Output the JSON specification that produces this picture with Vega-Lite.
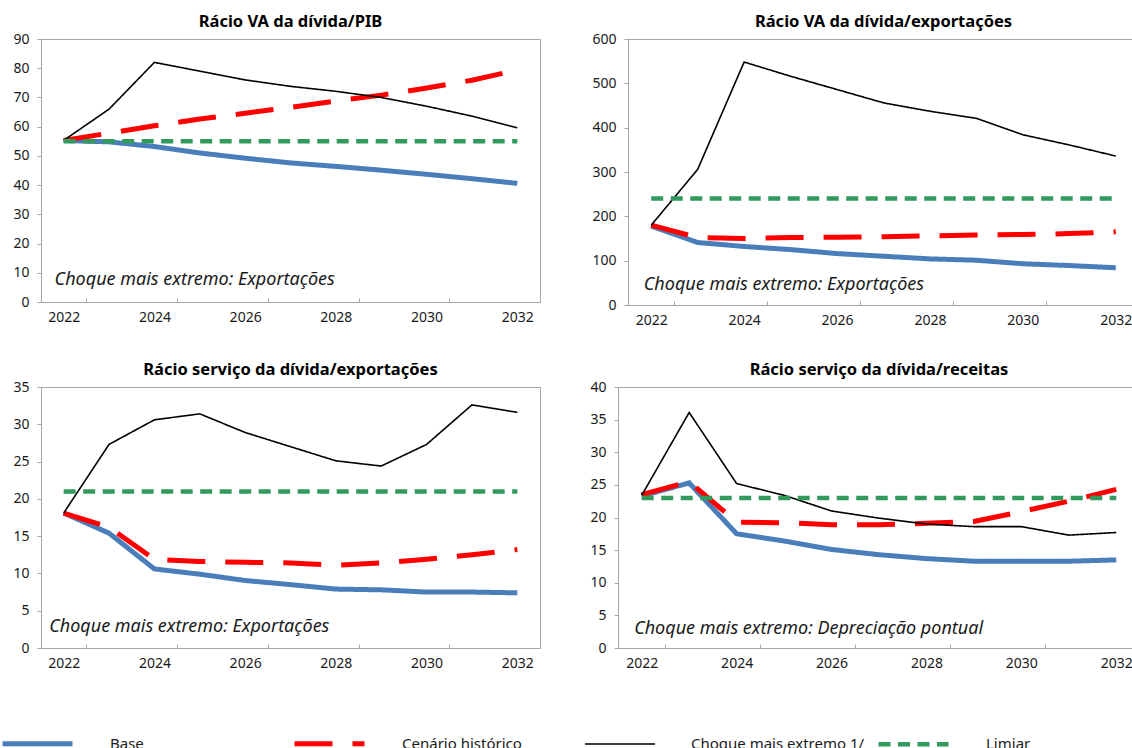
{
  "$schema": "https://vega.github.io/schema/vega-lite/v6.json",
  "padding": {"left": 0, "top": 13, "right": 0, "bottom": 0},
  "background": "white",
  "datasets": {
    "series": [
      {"p": "pib", "s": "Base", "year": "2022", "v": 55.3},
      {"p": "pib", "s": "Base", "year": "2023", "v": 54.8},
      {"p": "pib", "s": "Base", "year": "2024", "v": 53.2},
      {"p": "pib", "s": "Base", "year": "2025", "v": 51.0},
      {"p": "pib", "s": "Base", "year": "2026", "v": 49.2},
      {"p": "pib", "s": "Base", "year": "2027", "v": 47.6},
      {"p": "pib", "s": "Base", "year": "2028", "v": 46.4},
      {"p": "pib", "s": "Base", "year": "2029", "v": 45.1},
      {"p": "pib", "s": "Base", "year": "2030", "v": 43.7},
      {"p": "pib", "s": "Base", "year": "2031", "v": 42.2},
      {"p": "pib", "s": "Base", "year": "2032", "v": 40.6},
      {"p": "pib", "s": "Cenário histórico", "year": "2022", "v": 55.3},
      {"p": "pib", "s": "Cenário histórico", "year": "2023", "v": 57.8},
      {"p": "pib", "s": "Cenário histórico", "year": "2024", "v": 60.3},
      {"p": "pib", "s": "Cenário histórico", "year": "2025", "v": 62.6},
      {"p": "pib", "s": "Cenário histórico", "year": "2026", "v": 64.6},
      {"p": "pib", "s": "Cenário histórico", "year": "2027", "v": 66.6},
      {"p": "pib", "s": "Cenário histórico", "year": "2028", "v": 68.8},
      {"p": "pib", "s": "Cenário histórico", "year": "2029", "v": 70.8},
      {"p": "pib", "s": "Cenário histórico", "year": "2030", "v": 73.2},
      {"p": "pib", "s": "Cenário histórico", "year": "2031", "v": 75.9},
      {"p": "pib", "s": "Cenário histórico", "year": "2032", "v": 79.4},
      {"p": "pib", "s": "Choque mais extremo 1/", "year": "2022", "v": 55.3},
      {"p": "pib", "s": "Choque mais extremo 1/", "year": "2023", "v": 66.0},
      {"p": "pib", "s": "Choque mais extremo 1/", "year": "2024", "v": 82.0},
      {"p": "pib", "s": "Choque mais extremo 1/", "year": "2025", "v": 79.0},
      {"p": "pib", "s": "Choque mais extremo 1/", "year": "2026", "v": 76.0},
      {"p": "pib", "s": "Choque mais extremo 1/", "year": "2027", "v": 73.8},
      {"p": "pib", "s": "Choque mais extremo 1/", "year": "2028", "v": 72.1},
      {"p": "pib", "s": "Choque mais extremo 1/", "year": "2029", "v": 70.0},
      {"p": "pib", "s": "Choque mais extremo 1/", "year": "2030", "v": 67.0},
      {"p": "pib", "s": "Choque mais extremo 1/", "year": "2031", "v": 63.6},
      {"p": "pib", "s": "Choque mais extremo 1/", "year": "2032", "v": 59.6},
      {"p": "pib", "s": "Limiar", "year": "2022", "v": 55},
      {"p": "pib", "s": "Limiar", "year": "2023", "v": 55},
      {"p": "pib", "s": "Limiar", "year": "2024", "v": 55},
      {"p": "pib", "s": "Limiar", "year": "2025", "v": 55},
      {"p": "pib", "s": "Limiar", "year": "2026", "v": 55},
      {"p": "pib", "s": "Limiar", "year": "2027", "v": 55},
      {"p": "pib", "s": "Limiar", "year": "2028", "v": 55},
      {"p": "pib", "s": "Limiar", "year": "2029", "v": 55},
      {"p": "pib", "s": "Limiar", "year": "2030", "v": 55},
      {"p": "pib", "s": "Limiar", "year": "2031", "v": 55},
      {"p": "pib", "s": "Limiar", "year": "2032", "v": 55},

      {"p": "exp", "s": "Base", "year": "2022", "v": 178},
      {"p": "exp", "s": "Base", "year": "2023", "v": 141},
      {"p": "exp", "s": "Base", "year": "2024", "v": 132},
      {"p": "exp", "s": "Base", "year": "2025", "v": 125},
      {"p": "exp", "s": "Base", "year": "2026", "v": 116},
      {"p": "exp", "s": "Base", "year": "2027", "v": 110},
      {"p": "exp", "s": "Base", "year": "2028", "v": 104},
      {"p": "exp", "s": "Base", "year": "2029", "v": 101},
      {"p": "exp", "s": "Base", "year": "2030", "v": 93},
      {"p": "exp", "s": "Base", "year": "2031", "v": 89},
      {"p": "exp", "s": "Base", "year": "2032", "v": 84},
      {"p": "exp", "s": "Cenário histórico", "year": "2022", "v": 180},
      {"p": "exp", "s": "Cenário histórico", "year": "2023", "v": 152},
      {"p": "exp", "s": "Cenário histórico", "year": "2024", "v": 150},
      {"p": "exp", "s": "Cenário histórico", "year": "2025", "v": 152},
      {"p": "exp", "s": "Cenário histórico", "year": "2026", "v": 153},
      {"p": "exp", "s": "Cenário histórico", "year": "2027", "v": 154},
      {"p": "exp", "s": "Cenário histórico", "year": "2028", "v": 156},
      {"p": "exp", "s": "Cenário histórico", "year": "2029", "v": 158},
      {"p": "exp", "s": "Cenário histórico", "year": "2030", "v": 159},
      {"p": "exp", "s": "Cenário histórico", "year": "2031", "v": 161},
      {"p": "exp", "s": "Cenário histórico", "year": "2032", "v": 165},
      {"p": "exp", "s": "Choque mais extremo 1/", "year": "2022", "v": 180},
      {"p": "exp", "s": "Choque mais extremo 1/", "year": "2023", "v": 306},
      {"p": "exp", "s": "Choque mais extremo 1/", "year": "2024", "v": 548},
      {"p": "exp", "s": "Choque mais extremo 1/", "year": "2025", "v": 516},
      {"p": "exp", "s": "Choque mais extremo 1/", "year": "2026", "v": 486},
      {"p": "exp", "s": "Choque mais extremo 1/", "year": "2027", "v": 456},
      {"p": "exp", "s": "Choque mais extremo 1/", "year": "2028", "v": 437},
      {"p": "exp", "s": "Choque mais extremo 1/", "year": "2029", "v": 421},
      {"p": "exp", "s": "Choque mais extremo 1/", "year": "2030", "v": 384},
      {"p": "exp", "s": "Choque mais extremo 1/", "year": "2031", "v": 361},
      {"p": "exp", "s": "Choque mais extremo 1/", "year": "2032", "v": 336},
      {"p": "exp", "s": "Limiar", "year": "2022", "v": 240},
      {"p": "exp", "s": "Limiar", "year": "2023", "v": 240},
      {"p": "exp", "s": "Limiar", "year": "2024", "v": 240},
      {"p": "exp", "s": "Limiar", "year": "2025", "v": 240},
      {"p": "exp", "s": "Limiar", "year": "2026", "v": 240},
      {"p": "exp", "s": "Limiar", "year": "2027", "v": 240},
      {"p": "exp", "s": "Limiar", "year": "2028", "v": 240},
      {"p": "exp", "s": "Limiar", "year": "2029", "v": 240},
      {"p": "exp", "s": "Limiar", "year": "2030", "v": 240},
      {"p": "exp", "s": "Limiar", "year": "2031", "v": 240},
      {"p": "exp", "s": "Limiar", "year": "2032", "v": 240},

      {"p": "sexp", "s": "Base", "year": "2022", "v": 18.1},
      {"p": "sexp", "s": "Base", "year": "2023", "v": 15.4},
      {"p": "sexp", "s": "Base", "year": "2024", "v": 10.6},
      {"p": "sexp", "s": "Base", "year": "2025", "v": 9.9},
      {"p": "sexp", "s": "Base", "year": "2026", "v": 9.05},
      {"p": "sexp", "s": "Base", "year": "2027", "v": 8.5},
      {"p": "sexp", "s": "Base", "year": "2028", "v": 7.9},
      {"p": "sexp", "s": "Base", "year": "2029", "v": 7.8},
      {"p": "sexp", "s": "Base", "year": "2030", "v": 7.5},
      {"p": "sexp", "s": "Base", "year": "2031", "v": 7.5},
      {"p": "sexp", "s": "Base", "year": "2032", "v": 7.4},
      {"p": "sexp", "s": "Cenário histórico", "year": "2022", "v": 18.1},
      {"p": "sexp", "s": "Cenário histórico", "year": "2023", "v": 16.2},
      {"p": "sexp", "s": "Cenário histórico", "year": "2024", "v": 11.9},
      {"p": "sexp", "s": "Cenário histórico", "year": "2025", "v": 11.6},
      {"p": "sexp", "s": "Cenário histórico", "year": "2026", "v": 11.5},
      {"p": "sexp", "s": "Cenário histórico", "year": "2027", "v": 11.4},
      {"p": "sexp", "s": "Cenário histórico", "year": "2028", "v": 11.1},
      {"p": "sexp", "s": "Cenário histórico", "year": "2029", "v": 11.4},
      {"p": "sexp", "s": "Cenário histórico", "year": "2030", "v": 11.9},
      {"p": "sexp", "s": "Cenário histórico", "year": "2031", "v": 12.5},
      {"p": "sexp", "s": "Cenário histórico", "year": "2032", "v": 13.2},
      {"p": "sexp", "s": "Choque mais extremo 1/", "year": "2022", "v": 18.1},
      {"p": "sexp", "s": "Choque mais extremo 1/", "year": "2023", "v": 27.3},
      {"p": "sexp", "s": "Choque mais extremo 1/", "year": "2024", "v": 30.6},
      {"p": "sexp", "s": "Choque mais extremo 1/", "year": "2025", "v": 31.4},
      {"p": "sexp", "s": "Choque mais extremo 1/", "year": "2026", "v": 28.9},
      {"p": "sexp", "s": "Choque mais extremo 1/", "year": "2027", "v": 27.0},
      {"p": "sexp", "s": "Choque mais extremo 1/", "year": "2028", "v": 25.1},
      {"p": "sexp", "s": "Choque mais extremo 1/", "year": "2029", "v": 24.4},
      {"p": "sexp", "s": "Choque mais extremo 1/", "year": "2030", "v": 27.3},
      {"p": "sexp", "s": "Choque mais extremo 1/", "year": "2031", "v": 32.6},
      {"p": "sexp", "s": "Choque mais extremo 1/", "year": "2032", "v": 31.6},
      {"p": "sexp", "s": "Limiar", "year": "2022", "v": 21},
      {"p": "sexp", "s": "Limiar", "year": "2023", "v": 21},
      {"p": "sexp", "s": "Limiar", "year": "2024", "v": 21},
      {"p": "sexp", "s": "Limiar", "year": "2025", "v": 21},
      {"p": "sexp", "s": "Limiar", "year": "2026", "v": 21},
      {"p": "sexp", "s": "Limiar", "year": "2027", "v": 21},
      {"p": "sexp", "s": "Limiar", "year": "2028", "v": 21},
      {"p": "sexp", "s": "Limiar", "year": "2029", "v": 21},
      {"p": "sexp", "s": "Limiar", "year": "2030", "v": 21},
      {"p": "sexp", "s": "Limiar", "year": "2031", "v": 21},
      {"p": "sexp", "s": "Limiar", "year": "2032", "v": 21},

      {"p": "srec", "s": "Base", "year": "2022", "v": 23.3},
      {"p": "srec", "s": "Base", "year": "2023", "v": 25.3},
      {"p": "srec", "s": "Base", "year": "2024", "v": 17.5},
      {"p": "srec", "s": "Base", "year": "2025", "v": 16.4},
      {"p": "srec", "s": "Base", "year": "2026", "v": 15.1},
      {"p": "srec", "s": "Base", "year": "2027", "v": 14.3},
      {"p": "srec", "s": "Base", "year": "2028", "v": 13.7},
      {"p": "srec", "s": "Base", "year": "2029", "v": 13.3},
      {"p": "srec", "s": "Base", "year": "2030", "v": 13.3},
      {"p": "srec", "s": "Base", "year": "2031", "v": 13.3},
      {"p": "srec", "s": "Base", "year": "2032", "v": 13.5},
      {"p": "srec", "s": "Cenário histórico", "year": "2022", "v": 23.5},
      {"p": "srec", "s": "Cenário histórico", "year": "2023", "v": 25.5},
      {"p": "srec", "s": "Cenário histórico", "year": "2024", "v": 19.3},
      {"p": "srec", "s": "Cenário histórico", "year": "2025", "v": 19.2},
      {"p": "srec", "s": "Cenário histórico", "year": "2026", "v": 18.9},
      {"p": "srec", "s": "Cenário histórico", "year": "2027", "v": 18.9},
      {"p": "srec", "s": "Cenário histórico", "year": "2028", "v": 19.1},
      {"p": "srec", "s": "Cenário histórico", "year": "2029", "v": 19.4},
      {"p": "srec", "s": "Cenário histórico", "year": "2030", "v": 20.9},
      {"p": "srec", "s": "Cenário histórico", "year": "2031", "v": 22.5},
      {"p": "srec", "s": "Cenário histórico", "year": "2032", "v": 24.3},
      {"p": "srec", "s": "Choque mais extremo 1/", "year": "2022", "v": 23.4},
      {"p": "srec", "s": "Choque mais extremo 1/", "year": "2023", "v": 36.1},
      {"p": "srec", "s": "Choque mais extremo 1/", "year": "2024", "v": 25.2},
      {"p": "srec", "s": "Choque mais extremo 1/", "year": "2025", "v": 23.4},
      {"p": "srec", "s": "Choque mais extremo 1/", "year": "2026", "v": 21.0},
      {"p": "srec", "s": "Choque mais extremo 1/", "year": "2027", "v": 19.9},
      {"p": "srec", "s": "Choque mais extremo 1/", "year": "2028", "v": 19.0},
      {"p": "srec", "s": "Choque mais extremo 1/", "year": "2029", "v": 18.6},
      {"p": "srec", "s": "Choque mais extremo 1/", "year": "2030", "v": 18.6},
      {"p": "srec", "s": "Choque mais extremo 1/", "year": "2031", "v": 17.3},
      {"p": "srec", "s": "Choque mais extremo 1/", "year": "2032", "v": 17.7},
      {"p": "srec", "s": "Limiar", "year": "2022", "v": 23},
      {"p": "srec", "s": "Limiar", "year": "2023", "v": 23},
      {"p": "srec", "s": "Limiar", "year": "2024", "v": 23},
      {"p": "srec", "s": "Limiar", "year": "2025", "v": 23},
      {"p": "srec", "s": "Limiar", "year": "2026", "v": 23},
      {"p": "srec", "s": "Limiar", "year": "2027", "v": 23},
      {"p": "srec", "s": "Limiar", "year": "2028", "v": 23},
      {"p": "srec", "s": "Limiar", "year": "2029", "v": 23},
      {"p": "srec", "s": "Limiar", "year": "2030", "v": 23},
      {"p": "srec", "s": "Limiar", "year": "2031", "v": 23},
      {"p": "srec", "s": "Limiar", "year": "2032", "v": 23}
    ],
    "notes": [
      {"p": "pib", "label": "Choque mais extremo: Exportações"},
      {"p": "exp", "label": "Choque mais extremo: Exportações"},
      {"p": "sexp", "label": "Choque mais extremo: Exportações"},
      {"p": "srec", "label": "Choque mais extremo: Depreciação pontual"}
    ]
  },
  "vconcat": [
    {
      "hconcat": [
        {
          "title": "Rácio VA da dívida/PIB",
          "width": 499, "height": 263,
          "layer": [
            {
              "data": {"name": "series"},
              "transform": [{"filter": "datum.p === 'pib'"}],
              "mark": {"type": "line", "clip": true},
              "encoding": {
                "x": {"field": "year", "type": "ordinal", "bandPosition": 0.5, "scale": {"type": "band", "paddingInner": 0, "paddingOuter": 0}, "axis": {"labelExpr": "toNumber(datum.value) % 2 === 0 ? datum.value : ''", "tickBand": "extent", "tickOpacity": {"condition": {"test": "toNumber(datum.value) % 2 === 1", "value": 0}, "value": 1}, "labelOverlap": false, "labelFlush": false}},
                "y": {"field": "v", "type": "quantitative", "scale": {"domain": [0, 90], "nice": false}, "axis": {"values": [0,10,20,30,40,50,60,70,80,90], "labelOverlap": false}},
                "color": {"field": "s", "type": "nominal", "scale": {"domain": ["Base","Cenário histórico","Choque mais extremo 1/","Limiar"], "range": ["#4A7EBB","#FF0000","#000000","#339A5E"]}, "legend": {"orient": "none", "legendX": -41, "legendY": 667, "direction": "horizontal", "title": null}},
                "strokeDash": {"field": "s", "type": "nominal", "scale": {"domain": ["Base","Cenário histórico","Choque mais extremo 1/","Limiar"], "range": [[1,0],[38,20],[1,0],[12,7.5]]}, "legend": {"orient": "none", "legendX": -41, "legendY": 667, "direction": "horizontal", "title": null}},
                "strokeWidth": {"field": "s", "type": "nominal", "scale": {"type": "ordinal", "domain": ["Base","Cenário histórico","Choque mais extremo 1/","Limiar"], "range": [5, 5, 1.6, 4.5]}, "legend": null}
              }
            },
            {
              "data": {"name": "notes"},
              "transform": [{"filter": "datum.p === 'pib'"}],
              "mark": {"type": "text", "align": "left", "baseline": "middle", "fontStyle": "italic", "fontSize": 18, "color": "#1a1a1a"},
              "encoding": {
                "x": {"datum": "2022", "type": "ordinal", "bandPosition": 0.3, "scale": {"type": "band", "paddingInner": 0, "paddingOuter": 0}, "axis": {"labelExpr": "toNumber(datum.value) % 2 === 0 ? datum.value : ''", "tickBand": "extent", "tickOpacity": {"condition": {"test": "toNumber(datum.value) % 2 === 1", "value": 0}, "value": 1}, "labelOverlap": false, "labelFlush": false}},
                "y": {"datum": 7.6, "type": "quantitative", "scale": {"domain": [0, 90], "nice": false}, "axis": {"values": [0,10,20,30,40,50,60,70,80,90], "labelOverlap": false}},
                "text": {"field": "label"}
              }
            }
          ]
        },
        {
          "title": "Rácio VA da dívida/exportações",
          "width": 511, "height": 266,
          "layer": [
            {
              "data": {"name": "series"},
              "transform": [{"filter": "datum.p === 'exp'"}],
              "mark": {"type": "line", "clip": true},
              "encoding": {
                "x": {"field": "year", "type": "ordinal", "bandPosition": 0.5, "scale": {"type": "band", "paddingInner": 0, "paddingOuter": 0}, "axis": {"labelExpr": "toNumber(datum.value) % 2 === 0 ? datum.value : ''", "tickBand": "extent", "tickOpacity": {"condition": {"test": "toNumber(datum.value) % 2 === 1", "value": 0}, "value": 1}, "labelOverlap": false, "labelFlush": false}},
                "y": {"field": "v", "type": "quantitative", "scale": {"domain": [0, 600], "nice": false}, "axis": {"values": [0,100,200,300,400,500,600], "labelOverlap": false}},
                "color": {"field": "s", "type": "nominal"},
                "strokeDash": {"field": "s", "type": "nominal"},
                "strokeWidth": {"field": "s", "type": "nominal", "scale": {"type": "ordinal", "domain": ["Base","Cenário histórico","Choque mais extremo 1/","Limiar"], "range": [5, 5, 1.6, 4.5]}, "legend": null}
              }
            },
            {
              "data": {"name": "notes"},
              "transform": [{"filter": "datum.p === 'exp'"}],
              "mark": {"type": "text", "align": "left", "baseline": "middle", "fontStyle": "italic", "fontSize": 18, "color": "#1a1a1a"},
              "encoding": {
                "x": {"datum": "2022", "type": "ordinal", "bandPosition": 0.34, "scale": {"type": "band", "paddingInner": 0, "paddingOuter": 0}, "axis": {"labelExpr": "toNumber(datum.value) % 2 === 0 ? datum.value : ''", "tickBand": "extent", "tickOpacity": {"condition": {"test": "toNumber(datum.value) % 2 === 1", "value": 0}, "value": 1}, "labelOverlap": false, "labelFlush": false}},
                "y": {"datum": 45, "type": "quantitative", "scale": {"domain": [0, 600], "nice": false}, "axis": {"values": [0,100,200,300,400,500,600], "labelOverlap": false}},
                "text": {"field": "label"}
              }
            }
          ]
        }
      ],
      "spacing": 50
    },
    {
      "hconcat": [
        {
          "title": "Rácio serviço da dívida/exportações",
          "width": 499, "height": 261,
          "layer": [
            {
              "data": {"name": "series"},
              "transform": [{"filter": "datum.p === 'sexp'"}],
              "mark": {"type": "line", "clip": true},
              "encoding": {
                "x": {"field": "year", "type": "ordinal", "bandPosition": 0.5, "scale": {"type": "band", "paddingInner": 0, "paddingOuter": 0}, "axis": {"labelExpr": "toNumber(datum.value) % 2 === 0 ? datum.value : ''", "tickBand": "extent", "tickOpacity": {"condition": {"test": "toNumber(datum.value) % 2 === 1", "value": 0}, "value": 1}, "labelOverlap": false, "labelFlush": false}},
                "y": {"field": "v", "type": "quantitative", "scale": {"domain": [0, 35], "nice": false}, "axis": {"values": [0,5,10,15,20,25,30,35], "labelOverlap": false}},
                "color": {"field": "s", "type": "nominal"},
                "strokeDash": {"field": "s", "type": "nominal"},
                "strokeWidth": {"field": "s", "type": "nominal", "scale": {"type": "ordinal", "domain": ["Base","Cenário histórico","Choque mais extremo 1/","Limiar"], "range": [5, 5, 1.6, 4.5]}, "legend": null}
              }
            },
            {
              "data": {"name": "notes"},
              "transform": [{"filter": "datum.p === 'sexp'"}],
              "mark": {"type": "text", "align": "left", "baseline": "middle", "fontStyle": "italic", "fontSize": 18, "color": "#1a1a1a"},
              "encoding": {
                "x": {"datum": "2022", "type": "ordinal", "bandPosition": 0.18, "scale": {"type": "band", "paddingInner": 0, "paddingOuter": 0}, "axis": {"labelExpr": "toNumber(datum.value) % 2 === 0 ? datum.value : ''", "tickBand": "extent", "tickOpacity": {"condition": {"test": "toNumber(datum.value) % 2 === 1", "value": 0}, "value": 1}, "labelOverlap": false, "labelFlush": false}},
                "y": {"datum": 2.86, "type": "quantitative", "scale": {"domain": [0, 35], "nice": false}, "axis": {"values": [0,5,10,15,20,25,30,35], "labelOverlap": false}},
                "text": {"field": "label"}
              }
            }
          ]
        },
        {
          "title": "Rácio serviço da dívida/receitas",
          "width": 522, "height": 261,
          "layer": [
            {
              "data": {"name": "series"},
              "transform": [{"filter": "datum.p === 'srec'"}],
              "mark": {"type": "line", "clip": true},
              "encoding": {
                "x": {"field": "year", "type": "ordinal", "bandPosition": 0.5, "scale": {"type": "band", "paddingInner": 0, "paddingOuter": 0}, "axis": {"labelExpr": "toNumber(datum.value) % 2 === 0 ? datum.value : ''", "tickBand": "extent", "tickOpacity": {"condition": {"test": "toNumber(datum.value) % 2 === 1", "value": 0}, "value": 1}, "labelOverlap": false, "labelFlush": false}},
                "y": {"field": "v", "type": "quantitative", "scale": {"domain": [0, 40], "nice": false}, "axis": {"values": [0,5,10,15,20,25,30,35,40], "labelOverlap": false}},
                "color": {"field": "s", "type": "nominal"},
                "strokeDash": {"field": "s", "type": "nominal"},
                "strokeWidth": {"field": "s", "type": "nominal", "scale": {"type": "ordinal", "domain": ["Base","Cenário histórico","Choque mais extremo 1/","Limiar"], "range": [5, 5, 1.6, 4.5]}, "legend": null}
              }
            },
            {
              "data": {"name": "notes"},
              "transform": [{"filter": "datum.p === 'srec'"}],
              "mark": {"type": "text", "align": "left", "baseline": "middle", "fontStyle": "italic", "fontSize": 18, "color": "#1a1a1a"},
              "encoding": {
                "x": {"datum": "2022", "type": "ordinal", "bandPosition": 0.34, "scale": {"type": "band", "paddingInner": 0, "paddingOuter": 0}, "axis": {"labelExpr": "toNumber(datum.value) % 2 === 0 ? datum.value : ''", "tickBand": "extent", "tickOpacity": {"condition": {"test": "toNumber(datum.value) % 2 === 1", "value": 0}, "value": 1}, "labelOverlap": false, "labelFlush": false}},
                "y": {"datum": 2.9, "type": "quantitative", "scale": {"domain": [0, 40], "nice": false}, "axis": {"values": [0,5,10,15,20,25,30,35,40], "labelOverlap": false}},
                "text": {"field": "label"}
              }
            }
          ]
        }
      ],
      "spacing": 48
    }
  ],
  "spacing": 33,
  "resolve": {"scale": {"x": "independent", "y": "independent"}},
  "config": {
    "font": "Noto Sans",
    "view": {"stroke": "#a6a6a6", "strokeWidth": 1},
    "axis": {"grid": false, "title": null, "domainColor": "#a6a6a6", "tickColor": "#a6a6a6", "labelColor": "#1a1a1a", "labelFontSize": 14, "labelFont": "Noto Sans", "labelOverlap": false, "labelBound": false},
    "axisX": {"tickSize": -4, "labelPadding": 12, "labelAngle": 0},
    "axisY": {"tickSize": 4, "labelPadding": 8},
    "title": {"fontSize": 16.5, "fontWeight": "bold", "color": "#000000", "offset": 2, "anchor": "middle", "font": "Noto Sans"},
    "legend": {
      "padding": 0,
      "symbolType": "stroke", "symbolSize": 4900, "symbolStrokeWidth": 4,
      "labelFontSize": 15, "labelColor": "#1a1a1a", "labelOffset": 35, "columnPadding": 3, "gridAlign": "all", "labelLimit": 300
    }
  }
}
